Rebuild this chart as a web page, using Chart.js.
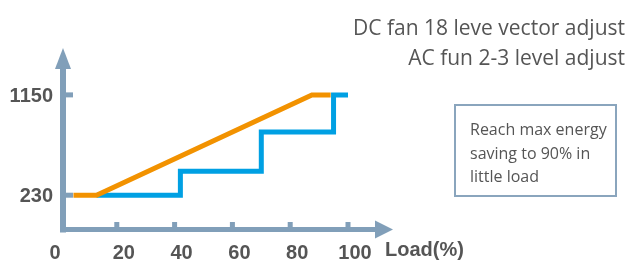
<!DOCTYPE html>
<html>
<head>
<meta charset="utf-8">
<script src="https://cdn.jsdelivr.net/npm/chart.js@4.4.1/dist/chart.umd.min.js"></script>
<style>
  html,body{margin:0;padding:0;background:#fff}
  canvas{display:block}
</style>
</head>
<body>
<canvas id="chart" width="637" height="262"></canvas>
<script>
// load (%) on x, fan speed on y
const xTicks = [0, 20, 40, 60, 80, 100];
const yTicks = [230, 1150];
const dcLoad  = [5, 13, 87.5, 94];
const dcSpeed = [230, 230, 1150, 1150];
const acLoad  = [13, 42, 70, 95, 100];
const acSpeed = [230, 450, 810, 1150, 1150];
const xTitle = 'Load(%)';
const titleLines = ['DC fan 18 leve vector adjust', 'AC fun 2-3 level adjust'];
const noteLines = ['Reach max energy', 'saving to 90% in', 'little load'];

const AXIS = '#819fb9', TXT = '#555555';
const ORANGE = '#f29200', BLUE = '#00a0e3';

const axesPlugin = {
  id: 'axes',
  beforeDatasetsDraw(chart) {
    const { ctx, scales: { x, y } } = chart;
    const ox = x.getPixelForValue(0) + 4;   // y axis sits a little right of zero
    const oy = y.bottom + 0.5;
    ctx.save();
    ctx.fillStyle = AXIS;
    // axis bars
    ctx.fillRect(ox - 3, y.top + 20, 6, oy + 3 - (y.top + 20));
    ctx.fillRect(ox - 3, oy - 2.5, x.right + 28 - (ox - 3), 5);
    // arrow heads
    ctx.beginPath();
    ctx.moveTo(ox - 8, y.top + 21); ctx.lineTo(ox + 8, y.top + 21); ctx.lineTo(ox, y.top); ctx.closePath(); ctx.fill();
    ctx.beginPath();
    ctx.moveTo(x.right + 27, oy - 9); ctx.lineTo(x.right + 27, oy + 9); ctx.lineTo(x.right + 45, oy); ctx.closePath(); ctx.fill();
    // tick stubs
    xTicks.filter(v => v > 0).forEach(v => {
      const px = x.getPixelForValue(v);
      ctx.fillRect(px - 2.5, oy - 7.5, 5, 6);
    });
    yTicks.forEach(v => {
      const py = y.getPixelForValue(v);
      ctx.fillRect(ox + 2, py - 2.5, 8, 5);
    });
    ctx.restore();
  },
  afterDraw(chart) {
    const { ctx, scales: { x, y } } = chart;
    ctx.save();
    ctx.fillStyle = TXT;
    ctx.font = 'bold 20px "Liberation Sans", Arial, sans-serif';
    ctx.textBaseline = 'alphabetic';
    ctx.textAlign = 'center';
    xTicks.forEach(v => {
      const px = x.getPixelForValue(v) + (v === 0 ? -4 : 7);
      ctx.fillText(String(v), px, 259);
    });
    ctx.textAlign = 'right';
    yTicks.forEach(v => ctx.fillText(String(v), 53, y.getPixelForValue(v) + 7));
    ctx.textAlign = 'left';
    ctx.fillText(xTitle, 385, 256);

    // headline text, top right
    ctx.font = '21px "Open Sans", sans-serif';
    ctx.textAlign = 'right';
    titleLines.forEach((t, i) => ctx.fillText(t, 625, 35 + i * 30));

    // note box
    ctx.strokeStyle = '#8aa5bd';
    ctx.lineWidth = 2;
    ctx.strokeRect(455, 105, 161, 91);
    ctx.font = '16px "Open Sans", sans-serif';
    ctx.textAlign = 'left';
    noteLines.forEach((t, i) => ctx.fillText(t, 470, 135 + i * 23.5));
    ctx.restore();
  }
};

new Chart(document.getElementById('chart'), {
  type: 'line',
  data: {
    datasets: [
      { label: 'DC fan', data: dcLoad.map((v, i) => ({ x: v, y: dcSpeed[i] })),
        borderColor: ORANGE, borderWidth: 5, pointRadius: 0, tension: 0, order: 0,
        borderCapStyle: 'butt', borderJoinStyle: 'miter' },
      { label: 'AC fan', data: acLoad.map((v, i) => ({ x: v, y: acSpeed[i] })),
        borderColor: BLUE, borderWidth: 5, pointRadius: 0, stepped: 'before', order: 1,
        borderCapStyle: 'butt', borderJoinStyle: 'miter' }
    ]
  },
  options: {
    responsive: false,
    animation: false,
    layout: { padding: { left: 59, right: 289, top: 48, bottom: 33 } },
    plugins: { legend: { display: false }, tooltip: { enabled: false } },
    elements: { line: { clip: false } },
    scales: {
      x: { type: 'linear', min: 0, max: 100, display: false },
      y: { type: 'linear', min: -80, max: 1580, display: false }
    }
  },
  plugins: [axesPlugin]
});
</script>
</body>
</html>
